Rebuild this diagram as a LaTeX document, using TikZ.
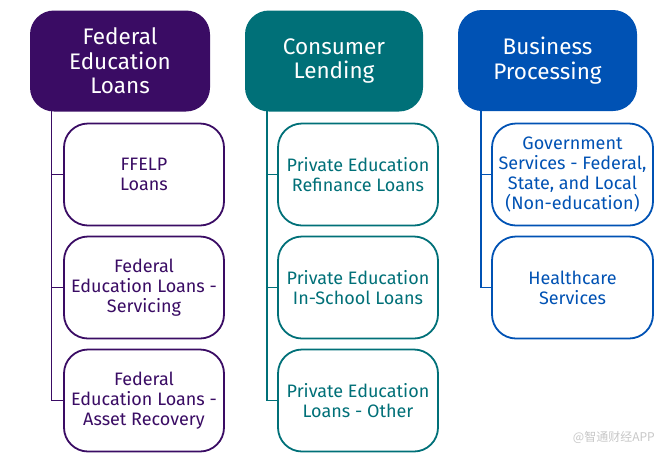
\documentclass[tikz,border=0pt]{standalone}
\usepackage{fontspec}
\setmainfont{Fira Sans}
\newfontfamily\cjk{Noto Sans CJK SC}
\definecolor{fpurple}{RGB}{58,12,100}
\definecolor{cteal}{RGB}{0,112,120}
\definecolor{bblue}{RGB}{0,82,180}
\begin{document}
\begin{tikzpicture}[x=1pt,y=-1pt,
  hdr/.style={rounded corners=24pt,minimum width=180pt,minimum height=101pt,align=center,text=white,font=\fontsize{22.5}{24.5}\selectfont,inner sep=0pt},
  child/.style={draw,line width=1.8pt,rounded corners=24pt,minimum width=160pt,minimum height=102pt,align=center,font=\fontsize{18}{20}\selectfont,fill=white,inner sep=0pt},
  conn/.style={line width=1.8pt}]
\useasboundingbox (0,0) rectangle (664,456);
% headers
\node[hdr,fill=fpurple] (h1) at (120,61) {Federal\\Education\\Loans};
\node[hdr,fill=cteal,minimum width=178pt] (h2) at (334,61) {Consumer\\Lending};
\node[hdr,fill=bblue,minimum width=179pt] (h3) at (547.5,60.5) {Business\\Processing};
% column 1
\node[child,draw=fpurple,text=fpurple] (a1) at (144,174.5) {FFELP\\Loans};
\node[child,draw=fpurple,text=fpurple] (a2) at (144,287.5) {Federal\\Education Loans -\\Servicing};
\node[child,draw=fpurple,text=fpurple] (a3) at (144,400.5) {Federal\\Education Loans -\\Asset Recovery};
% column 2
\node[child,draw=cteal,text=cteal] (b1) at (358,174.5) {Private Education\\Refinance Loans};
\node[child,draw=cteal,text=cteal] (b2) at (358,287.5) {Private Education\\In-School Loans};
\node[child,draw=cteal,text=cteal] (b3) at (358,400.5) {Private Education\\Loans - Other};
% column 3
\node[child,draw=bblue,text=bblue,minimum width=161pt] (c1) at (572.5,174.5) {Government\\Services - Federal,\\State, and Local\\(Non-education)};
\node[child,draw=bblue,text=bblue,minimum width=161pt] (c2) at (572.5,287.5) {Healthcare\\Services};
% connectors
\coordinate (t1) at (51.5,111);
\coordinate (t2) at (267,111);
\coordinate (t3) at (481,110);
\draw[conn,fpurple] (t1) -- (t1 |- a3.west) -- (a3.west);
\draw[conn,fpurple] (t1 |- a1.west) -- (a1.west);
\draw[conn,fpurple] (t1 |- a2.west) -- (a2.west);
\draw[conn,cteal] (t2) -- (t2 |- b3.west) -- (b3.west);
\draw[conn,cteal] (t2 |- b1.west) -- (b1.west);
\draw[conn,cteal] (t2 |- b2.west) -- (b2.west);
\draw[conn,bblue] (t3) -- (t3 |- c2.west) -- (c2.west);
\draw[conn,bblue] (t3 |- c1.west) -- (c1.west);
% watermark
\node[text=black!22,font=\cjk\fontsize{12}{14}\selectfont,anchor=east,inner sep=0pt] (wm) at (655,437) {@智通财经APP};
\end{tikzpicture}
\end{document}
